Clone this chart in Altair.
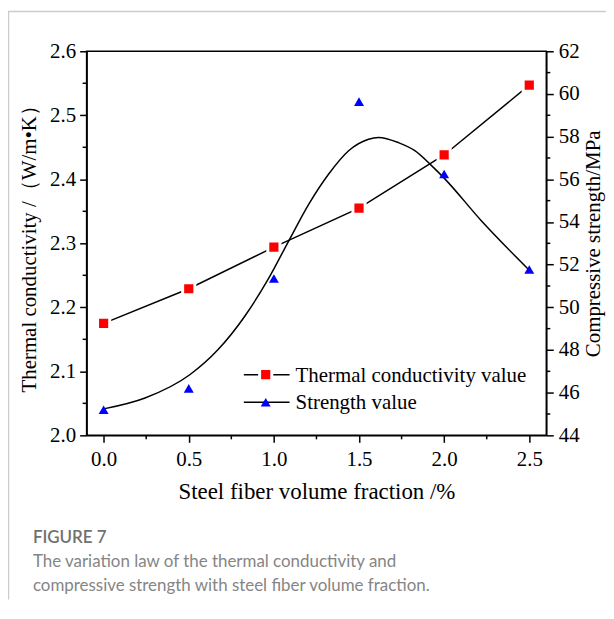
import altair as alt
import pandas as pd

# ---- data ----
fraction = [0.0, 0.5, 1.0, 1.5, 2.0, 2.5]
thermal = [2.175, 2.229, 2.294, 2.355, 2.438, 2.547]
strength = [45.2, 46.2, 51.35, 59.64, 56.25, 51.77]

# fitted strength curve
curve_x = [0.0, 0.243, 0.506, 0.671, 0.827, 0.963, 1.089, 1.206, 1.322, 1.439,
           1.556, 1.614, 1.731, 1.828, 1.926, 2.004, 2.217, 2.5]
curve_y = [45.24, 45.75, 46.84, 48.01, 49.56, 51.27, 53.14, 54.85, 56.25, 57.34,
           57.88, 57.96, 57.72, 57.34, 56.64, 56.02, 54.07, 51.74]

x_ticks = [0.0, 0.5, 1.0, 1.5, 2.0, 2.5]
x_minor = [0.25, 0.75, 1.25, 1.75, 2.25]
left_ticks = [2.0, 2.1, 2.2, 2.3, 2.4, 2.5, 2.6]
left_minor = [2.05, 2.15, 2.25, 2.35, 2.45, 2.55]
right_ticks = [44, 46, 48, 50, 52, 54, 56, 58, 60, 62]
right_minor = [45, 47, 49, 51, 53, 55, 57, 59, 61]

series_names = ["Thermal conductivity value", "Strength value"]
x_title = "Steel fiber volume fraction /%"
left_title = "Thermal conductivity /（W/m•K）"
right_title = "Compressive strength/MPa"
caption_head = "FIGURE 7"
caption_lines = ["The variation law of the thermal conductivity and",
                 "compressive strength with steel fiber volume fraction."]

W, H = 462, 386
SERIF = "Liberation Serif"
FS = 21

main_df = pd.DataFrame({"x": fraction, "tc": thermal, "st": strength})
curve_df = pd.DataFrame({"x": curve_x, "y": curve_y})

x_scale = alt.Scale(domain=[-0.1, 2.6], nice=False, zero=False)
x_axis = alt.Axis(values=x_ticks, format=".1f", title=x_title, titlePadding=11,
                  titleFontSize=23, labelPadding=6, orient="bottom")
X = alt.X("x:Q", scale=x_scale, axis=x_axis)

left_scale = alt.Scale(domain=[2.0, 2.6], nice=False, zero=False)
left_axis = alt.Axis(values=left_ticks, format=".1f", title=left_title,
                     orient="left", titlePadding=10, labelPadding=4)
right_scale = alt.Scale(domain=[44, 62], nice=False, zero=False)
right_axis = alt.Axis(values=right_ticks, format="d", title=right_title,
                      orient="right", titleAngle=270, titleBaseline="top",
                      titleFontSize=21, titlePadding=3, labelPadding=5)

tc_line = alt.Chart(main_df).mark_line(color="black", strokeWidth=1.5).encode(
    x=X, y=alt.Y("tc:Q", scale=left_scale, axis=left_axis))
tc_pts = alt.Chart(main_df).mark_point(shape="square", filled=True, fill="#ff0000",
                                       size=150, stroke="white", strokeWidth=3,
                                       opacity=1).encode(
    x=X, y=alt.Y("tc:Q", scale=left_scale, axis=left_axis))
lm = alt.Chart(pd.DataFrame({"tc": left_minor})).mark_rule(color="black", strokeWidth=1.5).encode(
    y=alt.Y("tc:Q", scale=left_scale, axis=left_axis), x=alt.value(-4), x2=alt.value(0))
left_layer = alt.layer(tc_line, tc_pts, lm)

st_curve = alt.Chart(curve_df).mark_line(color="black", strokeWidth=1.5,
                                         interpolate="monotone").encode(
    x=X, y=alt.Y("y:Q", scale=right_scale, axis=right_axis))
st_pts = alt.Chart(main_df.rename(columns={"st": "y"})).mark_point(
    shape="triangle-up", filled=True, fill="#0000ff", size=100, opacity=1).encode(
    x=X, y=alt.Y("y:Q", scale=right_scale, axis=right_axis))
rm = alt.Chart(pd.DataFrame({"y": right_minor})).mark_rule(color="black", strokeWidth=1.5).encode(
    y=alt.Y("y:Q", scale=right_scale, axis=right_axis), x=alt.value(W), x2=alt.value(W + 4))
right_layer = alt.layer(st_curve, st_pts, rm)

xm = alt.Chart(pd.DataFrame({"x": x_minor})).mark_rule(color="black", strokeWidth=1.5).encode(
    x=X, y=alt.value(H), y2=alt.value(H + 4))

# legend (hand-drawn)
one = pd.DataFrame({"a": [0]})
leg = []
for i, (name, shape, col) in enumerate([(series_names[0], "square", "#ff0000"),
                                         (series_names[1], "triangle-up", "#0000ff")]):
    yy = 325 + i * 27.7
    leg.append(alt.Chart(one).mark_rule(color="black", strokeWidth=1.5).encode(
        x=alt.value(158), x2=alt.value(204), y=alt.value(yy)))
    if shape == "square":
        leg.append(alt.Chart(one).mark_point(shape=shape, filled=True, fill=col, size=150,
                                             stroke="white", strokeWidth=3, opacity=1).encode(
            x=alt.value(180), y=alt.value(yy)))
    else:
        leg.append(alt.Chart(one).mark_point(shape=shape, filled=True, fill=col, size=100,
                                             opacity=1).encode(
            x=alt.value(180), y=alt.value(yy)))
    leg.append(alt.Chart(pd.DataFrame({"t": [name]})).mark_text(
        font=SERIF, fontSize=FS, color="black", align="left", baseline="middle").encode(
        text="t:N", x=alt.value(210), y=alt.value(yy + 1)))

# caption
cap = [alt.Chart(pd.DataFrame({"t": [caption_head]})).mark_text(
    font="Lato", fontSize=17, fontWeight=600, color="#707070", align="left",
    baseline="middle").encode(text="t:N", x=alt.value(-54), y=alt.value(489))]
for j, line in enumerate(caption_lines):
    cap.append(alt.Chart(pd.DataFrame({"t": [line]})).mark_text(
        font="Lato", fontSize=17, color="#858585", align="left",
        baseline="middle").encode(text="t:N", x=alt.value(-54), y=alt.value(513 + 24 * j)))

# page frame lines
frame = [
    alt.Chart(one).mark_rule(color="#cccccc", strokeWidth=1.5).encode(
        x=alt.value(-79), x2=alt.value(W + 60), y=alt.value(-40)),
    alt.Chart(one).mark_rule(color="#cccccc", strokeWidth=1.5).encode(
        x=alt.value(-78.5), y=alt.value(-40), y2=alt.value(H + 165)),
]

chart = alt.layer(left_layer, right_layer, xm, *leg, *cap, *frame).resolve_scale(
    y="independent"
).properties(
    width=W, height=H,
    autosize=alt.AutoSizeParams(type="none"),
    padding={"left": 79, "top": 42, "right": 60, "bottom": 165},
).configure_view(
    stroke="black", strokeWidth=1.5
).configure_axis(
    domainColor="black", domainWidth=1.5, tickColor="black", tickWidth=1.5, tickSize=7,
    labelFont=SERIF, labelFontSize=FS, labelColor="black",
    titleFont=SERIF, titleFontSize=FS, titleFontWeight="normal", titleColor="black",
    grid=False,
)

chart.save("out.html", embed_options={"renderer": "svg", "actions": False})
